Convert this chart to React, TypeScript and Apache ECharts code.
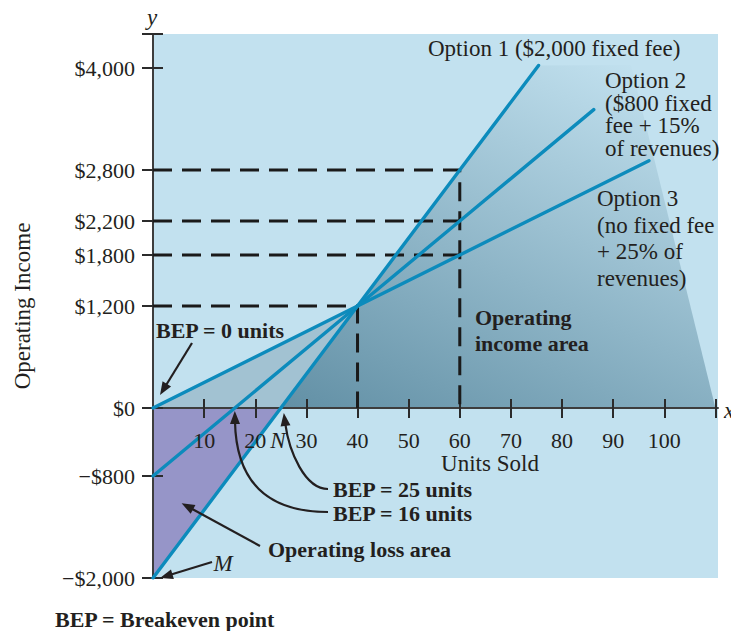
import React, { useEffect, useRef } from "react";
import * as echarts from "echarts";

const SERIF = '"Liberation Serif", "Times New Roman", serif';
const INK = "#231f20";

// Axis ticks and labels
const xLabelValues = [10, 20, 30, 40, 50, 60, 70, 80, 90, 100];
const xTickValues = [10, 20, 30, 40, 50, 60, 70, 80, 90, 100, 110];
const yLabelValues = [-2000, -800, 0, 1200, 1800, 2200, 2800, 4000];
const yLabelTexts = ["\u2212$2,000", "\u2212$800", "$0", "$1,200", "$1,800", "$2,200", "$2,800", "$4,000"];
const yTickValues = [-2000, -800, 0, 1200, 1800, 2200, 2800, 4000, 4400];

// Operating income lines (units sold, operating income)
const option1Line = [[0, -2000], [25, 0], [40, 1200], [60, 2800], [75.4, 4030]];
const option2Line = [[0, -800], [16, 0], [40, 1200], [60, 2200], [86.2, 3510]];
const option3Line = [[0, 0], [40, 1200], [60, 1800], [97, 2910]];

// Dashed guides
const guide2800 = [[0, 2800], [60, 2800], [60, 0]];
const guide2200 = [[0, 2200], [60, 2200]];
const guide1800 = [[0, 1800], [60, 1800]];
const guide1200 = [[0, 1200], [40, 1200], [40, 0]];

// Shaded regions
const lossArea = [[0, 0], [25, 0], [0, -2000]];
const bepWedge = [[0, 0], [40, 1200], [25, 0]];
const incomeArea = [[25, 0], [75.4, 4030], [93.5, 4035], [110, 0]];

// Annotation anchors (data coords)
const bep0Point = [0, 0];
const bep16Point = [16, 0];
const bep25Point = [25, 0];
const mPoint = [0, -2000];
const lossPoint = [5.6, -1120];

function polySeries(pts: number[][], fill: any, z: number) {
  return {
    type: "custom",
    coordinateSystem: "cartesian2d",
    xAxisIndex: 0,
    yAxisIndex: 0,
    z,
    silent: true,
    clip: false,
    data: [[pts[0][0], pts[0][1]]],
    renderItem: (_p: any, api: any) => ({
      type: "polygon",
      shape: { points: pts.map((p) => api.coord(p)) },
      style: { fill },
    }),
  };
}

function lineSeries(data: number[][], color: string, width: number, dashed: boolean, z: number) {
  return {
    type: "line",
    data,
    symbol: "none",
    silent: true,
    z,
    lineStyle: dashed
      ? { color, width, type: [19, 10] }
      : { color, width, cap: "round" },
  };
}

function txt(text: string, x: number, y: number, o: any = {}) {
  return {
    type: "text",
    x,
    y,
    z: 100,
    silent: true,
    rotation: o.rot || 0,
    style: {
      text,
      fill: INK,
      fontFamily: SERIF,
      fontSize: o.size || 23,
      fontWeight: o.bold ? "bold" : "normal",
      fontStyle: o.italic ? "italic" : "normal",
      align: o.align || "left",
      verticalAlign: o.va || "middle",
      lineHeight: o.lh,
    },
  };
}

function head(x2: number, y2: number, ang: number, len = 13, hw = 5) {
  const bx = x2 - len * Math.cos(ang);
  const by = y2 - len * Math.sin(ang);
  const nx = -Math.sin(ang);
  const ny = Math.cos(ang);
  return {
    type: "polygon",
    z: 100,
    silent: true,
    shape: { points: [[x2, y2], [bx + nx * hw, by + ny * hw], [bx - nx * hw, by - ny * hw]] },
    style: { fill: INK },
  };
}

function arrow(x1: number, y1: number, x2: number, y2: number) {
  const ang = Math.atan2(y2 - y1, x2 - x1);
  const bx = x2 - 10 * Math.cos(ang);
  const by = y2 - 10 * Math.sin(ang);
  return [
    { type: "line", z: 100, silent: true, shape: { x1, y1, x2: bx, y2: by }, style: { stroke: INK, lineWidth: 2.2 } },
    head(x2, y2, ang),
  ];
}

function curveArrow(x1: number, y1: number, c1x: number, c1y: number, c2x: number, c2y: number, x2: number, y2: number) {
  const ang = Math.atan2(y2 - c2y, x2 - c2x);
  const bx = x2 - 10 * Math.cos(ang);
  const by = y2 - 10 * Math.sin(ang);
  return [
    {
      type: "bezierCurve",
      z: 100,
      silent: true,
      shape: { x1, y1, cpx1: c1x, cpy1: c1y, cpx2: c2x, cpy2: c2y, x2: bx, y2: by },
      style: { stroke: INK, lineWidth: 2.2, fill: null },
    },
    head(x2, y2, ang),
  ];
}

export default function App() {
  const ref = useRef<HTMLDivElement>(null);

  useEffect(() => {
    document.body.style.margin = "0";
    if (!ref.current) return;
    const chart = echarts.init(ref.current, null, { renderer: "svg" });

    const LINE = "#0c8bbc";
    const incomeFill = new echarts.graphic.LinearGradient(-0.01, 1.12, 0.74, -0.18, [
      { offset: 0, color: "#5a899f" },
      { offset: 0.93, color: "#c2e1ef" },
      { offset: 1, color: "#c2e1ef" },
    ]);

    const axisLabelStyle = { fontFamily: SERIF, fontSize: 22, color: INK };

    chart.setOption({
      animation: false,
      textStyle: { fontFamily: SERIF },
      grid: {
        left: 153,
        top: 34,
        right: 13,
        bottom: 53,
        containLabel: false,
        outerBoundsMode: "none",
        show: true,
        backgroundColor: "#c2e1ef",
        borderWidth: 0,
      },
      xAxis: [
        {
          type: "value",
          min: 0,
          max: 110.5,
          position: "bottom",
          z: 2,
          axisLine: { show: true, onZero: true, lineStyle: { color: "#3d3d3d", width: 2 } },
          axisTick: { show: true, length: 10, customValues: xTickValues, lineStyle: { color: "#2b2b2b", width: 2 } },
          axisLabel: { show: false },
          splitLine: { show: false },
        },
        {
          type: "value",
          min: 0,
          max: 110.5,
          position: "bottom",
          z: 2,
          axisLine: { show: false, onZero: true },
          axisTick: { show: true, inside: true, length: 9, customValues: xTickValues, lineStyle: { color: "#2b2b2b", width: 2 } },
          axisLabel: { show: false },
          splitLine: { show: false },
        },
      ],
      yAxis: [
        {
          type: "value",
          min: -2000,
          max: 4400,
          position: "left",
          z: 2,
          axisLine: { show: true, lineStyle: { color: "#3d3d3d", width: 2 } },
          axisTick: { show: true, length: 11, customValues: yTickValues, lineStyle: { color: "#2b2b2b", width: 2 } },
          axisLabel: {
            show: true,
            customValues: yLabelValues,
            margin: 18,
            formatter: (v: number) => {
              const i = yLabelValues.indexOf(Math.round(v));
              return i >= 0 ? yLabelTexts[i] : "";
            },
            ...axisLabelStyle,
          },
          splitLine: { show: false },
        },
        {
          type: "value",
          min: -2000,
          max: 4400,
          position: "left",
          z: 2,
          axisLine: { show: false },
          axisTick: { show: true, inside: true, length: 10, customValues: yTickValues, lineStyle: { color: "#2b2b2b", width: 2 } },
          axisLabel: { show: false },
          splitLine: { show: false },
        },
      ],
      series: [
        polySeries(incomeArea, incomeFill, 1),
        polySeries(lossArea, "#9695c8", 1),
        polySeries(bepWedge, "#a2c2d2", 1),
        lineSeries(guide2800, "#1a1a1a", 3, true, 3),
        lineSeries(guide2200, "#1a1a1a", 3, true, 3),
        lineSeries(guide1800, "#1a1a1a", 3, true, 3),
        lineSeries(guide1200, "#1a1a1a", 3, true, 3),
        lineSeries(option1Line, LINE, 3.4, false, 4),
        lineSeries(option2Line, LINE, 3.4, false, 4),
        lineSeries(option3Line, LINE, 3.4, false, 4),
      ],
    });

    const px = (p: number[]) => chart.convertToPixel({ gridIndex: 0 }, p) as number[];
    const b0 = px(bep0Point);
    const b16 = px(bep16Point);
    const b25 = px(bep25Point);
    const m = px(mPoint);
    const lp = px(lossPoint);

    const xLabels = xLabelValues.map((v) => {
      const p = px([v, 0]);
      return txt(String(v), p[0], p[1] + 32, { align: "center", size: 22 });
    });

    const graphics: any[] = [
      ...xLabels,
      txt("y", 152, 17, { italic: true, align: "center" }),
      txt("x", 724, 410, { italic: true }),
      txt("Operating Income", 22, 306, { rot: Math.PI / 2, align: "center" }),
      txt("Units Sold", 490, 463, { align: "center" }),
      txt("Option 1 ($2,000 fixed fee)", 428, 48),
      txt("Option 2\n($800 fixed\nfee + 15%\nof revenues)", 605, 69.5, { va: "top", lh: 22.5 }),
      txt("Option 3\n(no fixed fee\n+ 25% of\nrevenues)", 597, 185.5, { va: "top", lh: 26.5 }),
      txt("Operating\nincome area", 475, 304, { va: "top", lh: 26, bold: true, size: 22 }),
      txt("BEP = 0 units", 156, 330, { bold: true, size: 22 }),
      txt("BEP = 25 units", 333, 489, { bold: true, size: 22 }),
      txt("BEP = 16 units", 333, 513, { bold: true, size: 22 }),
      txt("Operating loss area", 268, 549, { bold: true, size: 22 }),
      txt("M", 223, 563, { italic: true, align: "center" }),
      txt("N", 278, 440, { italic: true, align: "center" }),
      txt("BEP = Breakeven point", 55, 619, { bold: true, size: 22 }),
      ...arrow(192, 343, b0[0] + 7, b0[1] - 13),
      ...arrow(260, 546, lp[0], lp[1]),
      ...arrow(212, 562, m[0] + 7, m[1]),
      ...curveArrow(328, 489, 305, 489, 289, 452, b25[0] + 3, b25[1] + 5),
      ...curveArrow(328, 512, 268, 512, 236, 482, b16[0], b16[1] + 3),
    ];

    chart.setOption({ graphic: graphics });

    return () => chart.dispose();
  }, []);

  return <div ref={ref} style={{ width: 731, height: 631 }} />;
}
